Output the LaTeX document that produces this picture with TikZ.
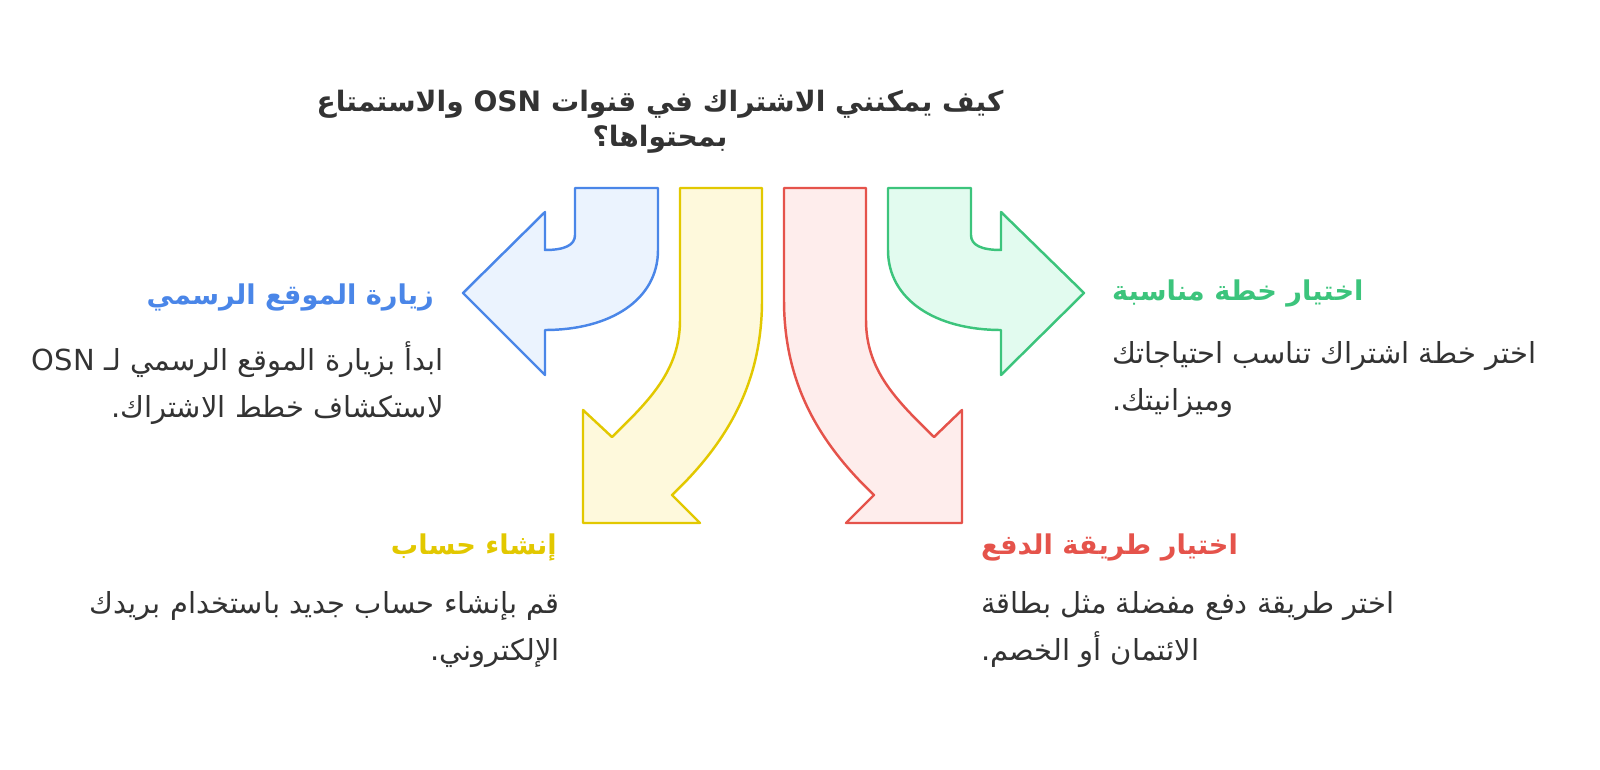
\documentclass[tikz,border=0pt]{standalone}
\usepackage{fontspec}
\newfontfamily\arabicfont[Script=Arabic]{DejaVu Sans}
\TeXXeTstate=1
\definecolor{blueline}{HTML}{4A86E8}
\definecolor{bluefill}{HTML}{EBF3FE}
\definecolor{yellowline}{HTML}{E2C800}
\definecolor{yellowfill}{HTML}{FEF9DC}
\definecolor{redline}{HTML}{E5534B}
\definecolor{redfill}{HTML}{FEEDEC}
\definecolor{greenline}{HTML}{3CC47C}
\definecolor{greenfill}{HTML}{E2FBEF}
\definecolor{textgray}{HTML}{333333}
\tikzset{
  arrowshape/.style={line width=1.4pt,line join=round},
  heading/.style={font=\arabicfont\bfseries\fontsize{15.5}{20}\selectfont},
  bodytext/.style={font=\arabicfont\fontsize{16.5}{27}\selectfont,text=textgray},
}
\begin{document}
\begin{tikzpicture}[x=0.02cm,y=-0.02cm]
			\useasboundingbox (0,0) rectangle (1600,770);

			% title
			\node[font=\arabicfont\bfseries\fontsize{16}{20}\selectfont,text=textgray,align=center] (title) at (660,122)
				{\beginR كيف يمكنني الاشتراك في قنوات \beginL OSN\endL{} والاستمتاع\endR\\\beginR بمحتواها؟\endR};

			% blue arrow
			\draw[arrowshape,draw=blueline,fill=bluefill] (658,188) -- (658,250)
				.. controls (658,300) and (610,330) .. (545,330) -- (545,375) -- (463,293)
				-- (545,212) -- (545,250) .. controls (565,250) and (575,245) .. (575,235) -- (575,188) -- cycle;

			% green arrow
			\draw[arrowshape,draw=greenline,fill=greenfill] (888,188) -- (888,250)
				.. controls (888,300) and (936,330) .. (1001,330) -- (1001,375) -- (1084,293)
				-- (1001,212) -- (1001,250) .. controls (981,250) and (971,245) .. (971,235) -- (971,188) -- cycle;

			% yellow arrow
			\draw[arrowshape,draw=yellowline,fill=yellowfill] (680,188) -- (680,320)
				.. controls (680,370) and (650,400) .. (612,437) -- (583,410) -- (583,523)
				-- (700,523) -- (672,495) .. controls (730,440) and (762,380) .. (762,300) -- (762,188) -- cycle;

			% red arrow
			\draw[arrowshape,draw=redline,fill=redfill] (866,188) -- (866,320)
				.. controls (866,370) and (896,400) .. (934,437) -- (962,410) -- (962,523)
				-- (846,523) -- (874,495) .. controls (816,440) and (784,380) .. (784,300) -- (784,188) -- cycle;

			% visit site
			\node[heading,text=blueline,anchor=east] (visithead) at (440,297) {\beginR زيارة الموقع الرسمي\endR};
			\node[bodytext,align=right,anchor=north east] (visitbody) at (450,335)
				{\beginR ابدأ بزيارة الموقع الرسمي لـ \beginL OSN\endL\endR\\\beginR لاستكشاف خطط الاشتراك.\endR};

			% choose plan
			\node[heading,text=greenline,anchor=west] (planhead) at (1106,293) {\beginR اختيار خطة مناسبة\endR};
			\node[bodytext,align=left,anchor=north west] (planbody) at (1106,335)
				{\beginR اختر خطة اشتراك تناسب احتياجاتك\endR\\\beginR وميزانيتك.\endR};

			% create account
			\node[heading,text=yellowline,anchor=east] (accounthead) at (563,547) {\beginR إنشاء حساب\endR};
			\node[bodytext,align=right,anchor=north east] (accountbody) at (566,585)
				{\beginR قم بإنشاء حساب جديد باستخدام بريدك\endR\\\beginR الإلكتروني.\endR};

			% payment
			\node[heading,text=redline,anchor=west] (payhead) at (975,547) {\beginR اختيار طريقة الدفع\endR};
			\node[bodytext,align=left,anchor=north west] (paybody) at (975,585)
				{\beginR اختر طريقة دفع مفضلة مثل بطاقة\endR\\\beginR الائتمان أو الخصم.\endR};
		\end{tikzpicture}
\end{document}
